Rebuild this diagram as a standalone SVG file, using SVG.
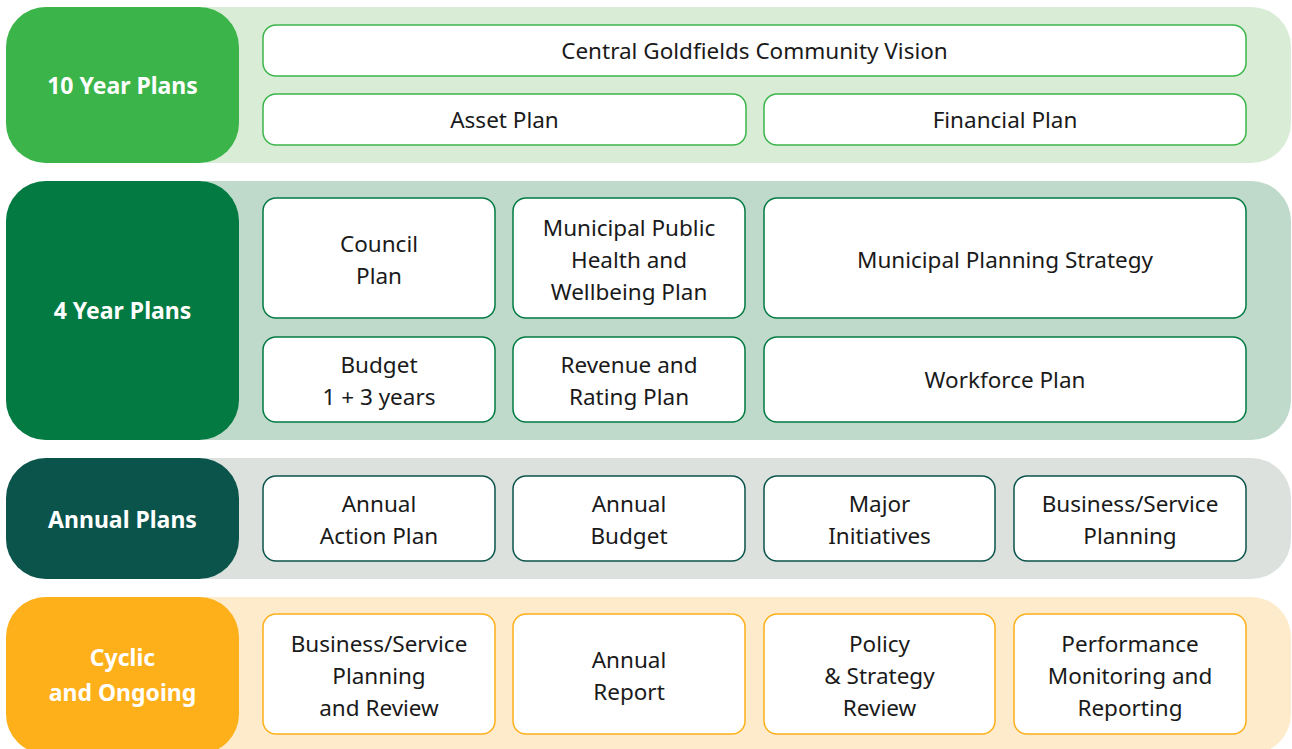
<svg xmlns="http://www.w3.org/2000/svg" width="1292" height="749" viewBox="0 0 1292 749">
<style>
.lbl{font-family:"Noto Sans","Open Sans",sans-serif;font-weight:bold;font-size:23px;fill:#fff;text-anchor:middle;dominant-baseline:central}
.t{font-family:"Noto Sans","Open Sans",sans-serif;font-size:22.5px;fill:#1a1a1a;text-anchor:middle;dominant-baseline:central}
.b{fill:#fff;stroke-width:1.5}
.g1{stroke:#3bb54a}.g2{stroke:#027a42}.g3{stroke:#0a544b}.g4{stroke:#fdb01a}
</style>
<rect width="1292" height="749" fill="#fff"/>
<g id="band-10">
<rect x="6" y="7" width="1285" height="156" rx="40" fill="#d9edd6"/>
<rect x="6" y="7" width="233" height="156" rx="40" fill="#3bb54a"/>
<text class="lbl" x="122.5" y="85">10 Year Plans</text>
</g>
<g id="vision"><rect class="b g1" x="263" y="25" width="983" height="51" rx="13"/><text class="t" x="754.5" y="50">Central Goldfields Community Vision</text></g>
<g id="asset"><rect class="b g1" x="263" y="94" width="483" height="51" rx="13"/><text class="t" x="504.5" y="119.5">Asset Plan</text></g>
<g id="financial"><rect class="b g1" x="764" y="94" width="482" height="51" rx="13"/><text class="t" x="1005" y="119.5">Financial Plan</text></g>

<g id="band-4">
<rect x="6" y="181" width="1285" height="259" rx="40" fill="#bfdacb"/>
<rect x="6" y="181" width="233" height="259" rx="40" fill="#027a42"/>
<text class="lbl" x="122.5" y="310">4 Year Plans</text>
</g>
<g id="council"><rect class="b g2" x="263" y="198" width="232" height="120" rx="13"/><text class="t" x="379" y="243">Council</text><text class="t" x="379" y="275">Plan</text></g>
<g id="mphwp"><rect class="b g2" x="513" y="198" width="232" height="120" rx="13"/><text class="t" x="629" y="227">Municipal Public</text><text class="t" x="629" y="259">Health and</text><text class="t" x="629" y="291">Wellbeing Plan</text></g>
<g id="mps"><rect class="b g2" x="764" y="198" width="482" height="120" rx="13"/><text class="t" x="1005" y="259">Municipal Planning Strategy</text></g>
<g id="budget"><rect class="b g2" x="263" y="337" width="232" height="85" rx="13"/><text class="t" x="379" y="364">Budget</text><text class="t" x="379" y="396">1 + 3 years</text></g>
<g id="revenue"><rect class="b g2" x="513" y="337" width="232" height="85" rx="13"/><text class="t" x="629" y="364">Revenue and</text><text class="t" x="629" y="396">Rating Plan</text></g>
<g id="workforce"><rect class="b g2" x="764" y="337" width="482" height="85" rx="13"/><text class="t" x="1005" y="379.5">Workforce Plan</text></g>

<g id="band-annual">
<rect x="6" y="458" width="1285" height="121" rx="40" fill="#dce1de"/>
<rect x="6" y="458" width="233" height="121" rx="40" fill="#0a544b"/>
<text class="lbl" x="122.5" y="519">Annual Plans</text>
</g>
<g id="aap"><rect class="b g3" x="263" y="476" width="232" height="85" rx="13"/><text class="t" x="379" y="503">Annual</text><text class="t" x="379" y="535">Action Plan</text></g>
<g id="abudget"><rect class="b g3" x="513" y="476" width="232" height="85" rx="13"/><text class="t" x="629" y="503">Annual</text><text class="t" x="629" y="535">Budget</text></g>
<g id="major"><rect class="b g3" x="764" y="476" width="231" height="85" rx="13"/><text class="t" x="879.5" y="503">Major</text><text class="t" x="879.5" y="535">Initiatives</text></g>
<g id="bsp"><rect class="b g3" x="1014" y="476" width="232" height="85" rx="13"/><text class="t" x="1130" y="503">Business/Service</text><text class="t" x="1130" y="535">Planning</text></g>

<g id="band-cyclic">
<rect x="6" y="597" width="1285" height="157" rx="40" fill="#feebcb"/>
<rect x="6" y="597" width="233" height="157" rx="40" fill="#fdb01a"/>
<text class="lbl" x="122.5" y="657">Cyclic</text>
<text class="lbl" x="122.5" y="692">and Ongoing</text>
</g>
<g id="bspr"><rect class="b g4" x="263" y="614" width="232" height="120" rx="13"/><text class="t" x="379" y="643">Business/Service</text><text class="t" x="379" y="675">Planning</text><text class="t" x="379" y="707">and Review</text></g>
<g id="areport"><rect class="b g4" x="513" y="614" width="232" height="120" rx="13"/><text class="t" x="629" y="659">Annual</text><text class="t" x="629" y="691">Report</text></g>
<g id="policy"><rect class="b g4" x="764" y="614" width="231" height="120" rx="13"/><text class="t" x="879.5" y="643">Policy</text><text class="t" x="879.5" y="675">&amp; Strategy</text><text class="t" x="879.5" y="707">Review</text></g>
<g id="perf"><rect class="b g4" x="1014" y="614" width="232" height="120" rx="13"/><text class="t" x="1130" y="643">Performance</text><text class="t" x="1130" y="675">Monitoring and</text><text class="t" x="1130" y="707">Reporting</text></g>
<g id="connectors"/>
</svg>
